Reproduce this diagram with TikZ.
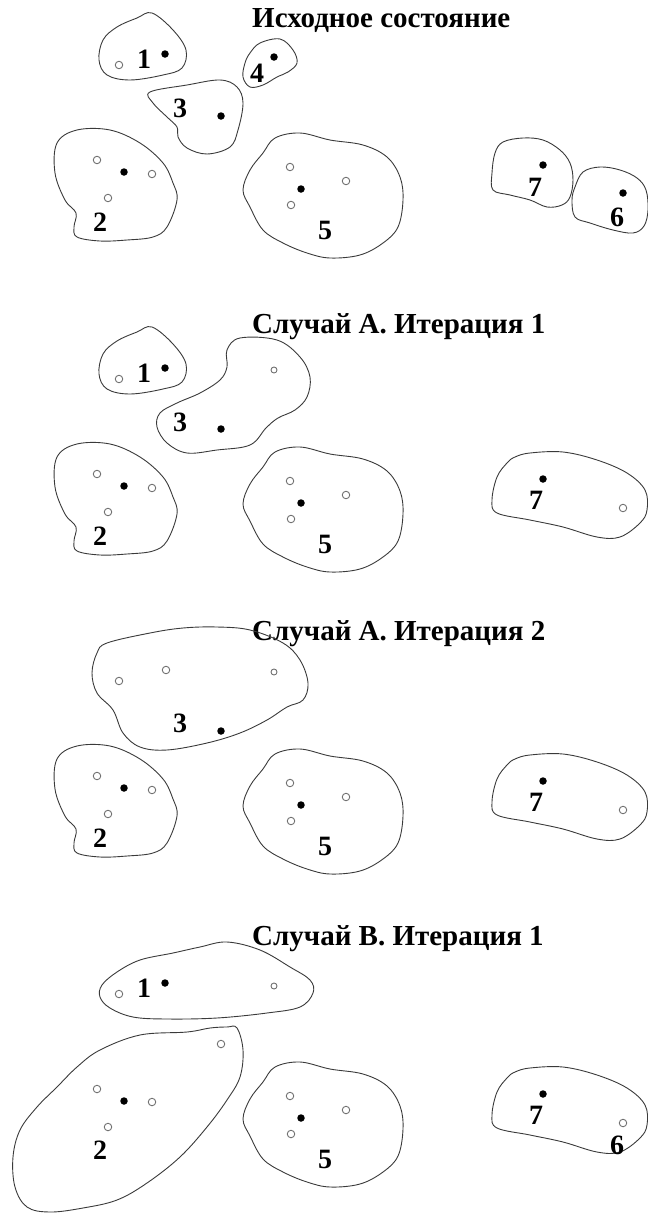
\documentclass[tikz,border=0pt]{standalone}
\usepackage{fontspec}
\setmainfont{Liberation Serif}
\usetikzlibrary{positioning}
\definecolor{ink}{HTML}{3A3A3A}
\definecolor{ring}{HTML}{707070}

\tikzset{
  blob/.style={draw=ink,line width=0.9pt},
  fdot/.style={circle,fill=black,inner sep=0,minimum size=7.5pt},
  hdot/.style={circle,draw=ring,line width=0.9pt,inner sep=0,minimum size=7.5pt},
  num/.style={inner sep=0,font=\fontsize{28}{28}\selectfont\bfseries},
  title/.style={anchor=base west,inner sep=0,font=\fontsize{29}{29}\selectfont\bfseries},
  % clusters of the initial state
  pics/cone/.style={code={
    \draw[blob] plot[smooth cycle,tension=.6] coordinates{(152,13)(173,30)(186,50)(182,68)(163,75)(130,80)(107,75)(99,60)(103,40)(117,27)(137,18)};
    \node[hdot] (-a) at (119,65) {};
    \node[num] (-n) at (144,59) {1};
    \node[fdot] (-c) at (165,54) {};}},
  pics/ctwo/.style={code={
    \draw[blob] plot[smooth cycle,tension=.6] coordinates{(77,130)(110,130)(140,143)(163,163)(173,183)(177,200)(167,227)(153,237)(127,240)(100,241)(77,237)(74,227)(76,213)(65,200)(55,173)(57,143)};
    \foreach \p/\x/\y in {a/97/160,b/152/174,e/108/198}{\node[hdot] (-\p) at (\x,\y) {};}
    \node[fdot] (-c) at (124,172) {};
    \node[num] (-n) at (100,222) {2};}},
  pics/cthree/.style={code={
    \draw[blob] plot[smooth cycle,tension=.6] coordinates{(150,92)(187,85)(220,80)(237,87)(243,103)(238,130)(230,147)(207,154)(187,148)(178,137)(177,127)(167,117)(153,103)};
    \node[num] (-n) at (180,108) {3};
    \node[fdot] (-c) at (221,116) {};}},
  pics/cfour/.style={code={
    \draw[blob] plot[smooth cycle,tension=.6] coordinates{(260,43)(280,39)(293,50)(297,63)(288,72)(277,77)(263,85)(250,87)(243,77)(245,63)(250,53)};
    \node[num] (-n) at (257,73) {4};
    \node[fdot] (-c) at (274,57) {};}},
  pics/cfive/.style={code={
    \draw[blob] plot[smooth cycle,tension=.6] coordinates{(275,138)(300,133)(330,140)(363,145)(387,157)(400,177)(403,200)(398,227)(383,243)(360,255)(330,258)(307,253)(283,243)(263,230)(250,207)(243,190)(250,170)(263,153)};
    \foreach \p/\x/\y in {a/290/167,b/346/181,e/291/205}{\node[hdot] (-\p) at (\x,\y) {};}
    \node[fdot] (-c) at (301,189) {};
    \node[num] (-n) at (325,230) {5};}},
  pics/csix/.style={code={
    \draw[blob] plot[smooth cycle,tension=.6] coordinates{(583,172)(600,167)(620,170)(637,178)(646,190)(648,210)(644,226)(633,233)(613,230)(590,223)(575,217)(572,200)(575,187)};
    \node[num] (-n) at (617,217) {6};
    \node[fdot] (-c) at (623,193) {};}},
  pics/cseven/.style={code={
    \draw[blob] plot[smooth cycle,tension=.6] coordinates{(503,142)(523,138)(543,140)(560,150)(570,163)(573,180)(570,197)(562,205)(547,207)(530,200)(510,195)(493,190)(492,173)(495,153)};
    \node[num] (-n) at (535,187) {7};
    \node[fdot] (-c) at (543,165) {};}},
  % merged clusters
  pics/cthreeA/.style={code={
    \draw[blob] plot[smooth cycle,tension=.6] coordinates{(227,350)(240,338)(277,340)(300,357)(310,377)(307,397)(295,410)(278,418)(266,428)(250,445)(217,450)(187,453)(167,443)(157,427)(160,413)(177,403)(200,393)(220,380)(227,367)};
    \node[hdot,minimum size=6pt] (-a) at (274,370) {};
    \node[num] (-n) at (180,422) {3};
    \node[fdot] (-c) at (221,429) {};}},
  pics/csevenA/.style={code={
    \draw[blob] plot[smooth cycle,tension=.6] coordinates{(515,457)(530,453)(563,452)(597,460)(627,473)(645,490)(647,510)(640,523)(620,537)(597,537)(563,527)(530,520)(497,513)(492,500)(497,477)(507,463)};
    \node[fdot] (-c) at (543,479) {};
    \node[num] (-n) at (536,500) {7};
    \node[hdot] (-a) at (623,508) {};}},
  pics/cthreeB/.style={code={
    \draw[blob] plot[smooth cycle,tension=.6] coordinates{(107,643)(150,633)(183,628)(217,627)(250,630)(283,643)(300,660)(308,683)(303,700)(287,707)(267,720)(240,733)(207,743)(167,750)(140,747)(123,733)(113,710)(97,693)(92,673)(97,653)};
    \foreach \p/\x/\y in {a/119/681,b/166/670}{\node[hdot] (-\p) at (\x,\y) {};}
    \node[hdot,minimum size=6pt] (-e) at (274,672) {};
    \node[num] (-n) at (180,723) {3};
    \node[fdot] (-c) at (221,731) {};}},
  pics/coneB/.style={code={
    \draw[blob] plot[smooth cycle,tension=.6] coordinates{(227,942)(200,947)(173,953)(140,960)(117,972)(102,985)(100,997)(110,1008)(133,1017)(167,1019)(217,1018)(267,1013)(300,1007)(313,993)(310,980)(290,967)(260,950)};
    \node[hdot] (-a) at (119,994) {};
    \node[num] (-n) at (144,988) {1};
    \node[fdot] (-c) at (165,983) {};
    \node[hdot,minimum size=6pt] (-b) at (274,986) {};}},
  pics/ctwoB/.style={code={
    \draw[blob] plot[smooth cycle,tension=.6] coordinates{(237,1028)(243,1050)(240,1077)(227,1100)(207,1127)(180,1157)(147,1183)(117,1200)(83,1208)(50,1212)(27,1207)(15,1187)(13,1157)(20,1130)(37,1107)(57,1087)(77,1067)(100,1050)(140,1035)(187,1032)(210,1028)(227,1027)};
    \foreach \p/\x/\y in {a/97/1089,b/152/1102,e/108/1127,f/221/1044}{\node[hdot] (-\p) at (\x,\y) {};}
    \node[fdot] (-c) at (124,1101) {};
    \node[num] (-n) at (100,1150) {2};}}
}

\begin{document}
\begin{tikzpicture}[x=1pt,y=-1pt]
\useasboundingbox (0,0) rectangle (648,1213);

% initial state
\node[title] (t0) at (252,27) {Исходное состояние};
\foreach \c in {cone,ctwo,cthree,cfour,cfive,csix,cseven}{\pic (s0\c) at (0,0) {\c};}

% case A, iteration 1
\node[title] (t1) at (252,333) {Случай А. Итерация 1};
\foreach \c in {cone,ctwo,cfive}{\pic (s1\c) at (0,314) {\c};}
\pic (s1three) at (0,0) {cthreeA};
\pic (s1seven) at (0,0) {csevenA};

% case A, iteration 2
\node[title] (t2) at (252,640) {Случай А. Итерация 2};
\foreach \c in {ctwo,cfive}{\pic (s2\c) at (0,616) {\c};}
\pic (s2three) at (0,0) {cthreeB};
\pic (s2seven) at (0,302) {csevenA};

% case B, iteration 1
\node[title] (t3) at (252,945) {Случай В. Итерация 1};
\pic (s3one) at (0,0) {coneB};
\pic (s3two) at (0,0) {ctwoB};
\pic (s3five) at (0,929) {cfive};
\pic (s3seven) at (0,615) {csevenA};
\node[num] (s3six) at (617,1145) {6};
\end{tikzpicture}
\end{document}
